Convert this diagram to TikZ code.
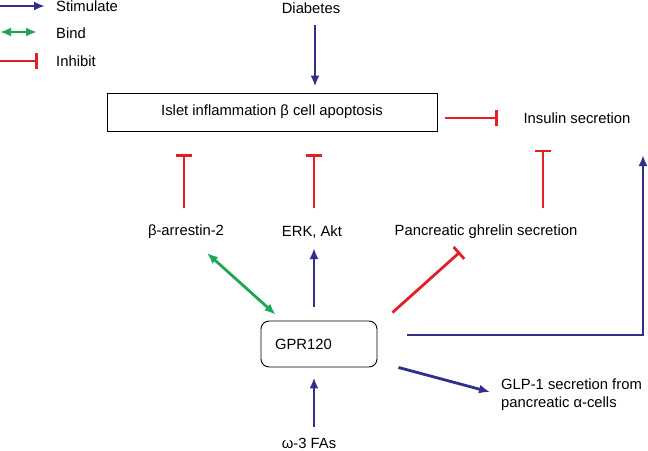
\documentclass[tikz,border=0pt]{standalone}
\usepackage{fontspec}
\setmainfont{Liberation Sans}
\usetikzlibrary{arrows.meta,calc}
\definecolor{stimblue}{RGB}{48,48,140}
\definecolor{bindgreen}{RGB}{30,165,85}
\definecolor{inhred}{RGB}{228,30,40}

\begin{document}
\begin{tikzpicture}[x=1pt,y=-1pt,font=\fontsize{14.8}{18}\selectfont,
    every node/.style={inner sep=0pt},
    stim/.style={stimblue,line width=2.8pt,-{Latex[length=11pt,width=9pt]}},
    bind/.style={bindgreen,line width=2.8pt,{Latex[length=11pt,width=9pt]}-{Latex[length=11pt,width=9pt]}},
    inh/.style={inhred,line width=2.8pt,-{Bar[width=16pt,line width=2.8pt]}}]
  \useasboundingbox (0,0) rectangle (648,450);

  \node[anchor=west] (lstim) at (56,6) {Stimulate};
  \node[anchor=west] (lbind) at (56,33) {Bind};
  \node[anchor=west] (linh) at (56,61) {Inhibit};
  \draw[stim] ([xshift=-56pt]lstim.west) -- ([xshift=-11pt]lstim.west);
  \draw[bind] ([xshift=-56pt,yshift=1pt]lbind.west) -- ([xshift=-19pt,yshift=1pt]lbind.west);
  \draw[inh] ([xshift=-56pt]linh.west) -- ([xshift=-18pt]linh.west);

  \node (diab) at (311,8) {Diabetes};
  \node[draw,line width=0.9pt,minimum width=330pt,minimum height=38pt] (islet) at (272,112) {Islet inflammation β cell apoptosis};
  \node (ins) at (577,118) {Insulin secretion};
  \node (barr) at (186,232) {β-arrestin-2};
  \node (erk) at (312,232) {ERK, Akt};
  \node (ghr) at (486,232) {Pancreatic ghrelin secretion};
  \node[draw,line width=0.9pt,rounded corners=8pt,minimum height=46pt,inner xsep=14pt,text width=88pt,align=left] (gpr) at (319,344) {GPR120};
  \node (fas) at (309,443) {ω-3 FAs};
  \node[anchor=west,align=left] (glp) at (501,395) {GLP-1 secretion from\\pancreatic α-cells};

  \draw[stim] ($(diab.center)+(4,17)$) -- ($(diab.center |- islet.north)+(4,-6)$);
  \draw[inh] ($(islet.east)+(8,6)$) -- ($(ins.center)+(-79,0)$);
  \draw[inh] ($(barr.center)+(-2,-24)$) -- ($(barr.center |- islet.south)+(-2,23)$);
  \draw[inh] ($(erk.center)+(2,-24)$) -- ($(erk.center |- islet.south)+(2,23)$);
  \draw[inh] ($(ghr.center)+(57,-24)$) -- ($(ghr.center |- ins.south)+(57,26)$);
  \draw[bind] ($(barr.center)+(21,21)$) -- ($(gpr.north west)+(15,-6)$);
  \draw[stim] ($(gpr.north -| erk)+(2,-14)$) -- ($(erk.center)+(2,16)$);
  \draw[inh] ($(gpr.north east)+(15,-8)$) -- ($(ghr.center)+(-26,20)$);
  \draw[stim] ($(gpr.east)+(30,-9)$) -| ($(ins.center)+(66,37)$);
  \draw[stim] ($(gpr.south east)+(21,0)$) -- ($(glp.west)+(-11,-3)$);
  \draw[stim] ($(fas.center)+(5,-16)$) -- ($(gpr.south)+(-5,10)$);
\end{tikzpicture}
\end{document}
